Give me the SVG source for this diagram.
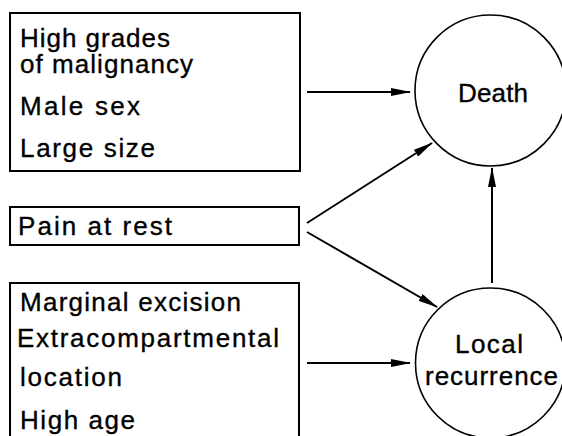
<svg xmlns="http://www.w3.org/2000/svg" width="562" height="436" viewBox="0 0 562 436">
<defs>
<marker id="ah" viewBox="0 0 20 8" refX="19" refY="4" markerWidth="20" markerHeight="8" markerUnits="userSpaceOnUse" orient="auto">
<path d="M0,0 L20,4 L0,8 Z" fill="#000"/>
</marker>
<style>
.box{fill:none;stroke:#000;stroke-width:2}
.node{fill:none;stroke:#000;stroke-width:1.6}
.t{font-family:"Liberation Sans",Arial,Helvetica,sans-serif;font-size:26px;fill:#000;stroke:#000;stroke-width:0.35}
.c{stroke:#000;stroke-width:2;fill:none;marker-end:url(#ah)}
</style>
</defs>
<rect width="562" height="436" fill="#fff"/>
<g id="risk-death">
<rect class="box" x="10" y="13" width="290" height="158"/>
<text class="t" x="20" y="47" textLength="150" lengthAdjust="spacing">High grades</text>
<text class="t" x="20" y="73" textLength="173" lengthAdjust="spacing">of malignancy</text>
<text class="t" x="20" y="115" textLength="120" lengthAdjust="spacing">Male sex</text>
<text class="t" x="20" y="157" textLength="135" lengthAdjust="spacing">Large size</text>
</g>
<g id="pain">
<rect class="box" x="10" y="207" width="289" height="38"/>
<text class="t" x="18" y="235" textLength="154" lengthAdjust="spacing">Pain at rest</text>
</g>
<g id="risk-recurrence">
<rect class="box" x="10" y="283" width="289" height="170"/>
<text class="t" x="20" y="311" textLength="221" lengthAdjust="spacing">Marginal excision</text>
<text class="t" x="17" y="347" textLength="262" lengthAdjust="spacing">Extracompartmental</text>
<text class="t" x="20" y="386" textLength="102" lengthAdjust="spacing">location</text>
<text class="t" x="20" y="429" textLength="115" lengthAdjust="spacing">High age</text>
</g>
<g id="death">
<circle class="node" cx="490.5" cy="90.5" r="75.5"/>
<text class="t" x="458" y="102" textLength="70" lengthAdjust="spacing">Death</text>
</g>
<g id="local-recurrence">
<circle class="node" cx="490.5" cy="363" r="75"/>
<text class="t" x="455" y="353" textLength="68" lengthAdjust="spacing">Local</text>
<text class="t" x="425" y="385" textLength="133" lengthAdjust="spacing">recurrence</text>
</g>
<g id="connectors">
<line class="c" x1="307" y1="92" x2="410" y2="92"/>
<line class="c" x1="307" y1="223" x2="432" y2="143"/>
<line class="c" x1="307" y1="232" x2="437" y2="307"/>
<line class="c" x1="492" y1="283" x2="492" y2="168"/>
<line class="c" x1="307" y1="363" x2="410" y2="363"/>
</g>
</svg>
